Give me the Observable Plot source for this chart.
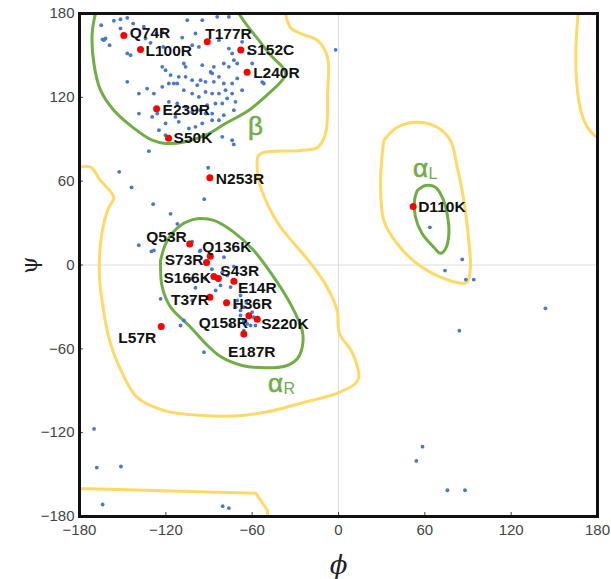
<!DOCTYPE html>
<html>
<head>
<meta charset="utf-8">
<script src="https://cdn.jsdelivr.net/npm/d3@7"></script>
<script src="https://cdn.jsdelivr.net/npm/@observablehq/plot@0.6"></script>
<style>
  body { margin: 0; background: #fff; }
  #chart svg { display: block; }
</style>
</head>
<body>
<div id="chart"></div>
<script>
// Ramachandran plot: backbone dihedral angles (phi, psi) in degrees.

const phiTicks = [-180, -120, -60, 0, 60, 120, 180];
const psiTicks = [-180, -120, -60, 0, 60, 120, 180];

// Mutated residues (highlighted in red)
const mutantNames = ["Q74R", "L100R", "T177R", "S152C", "L240R", "E239R", "S50K", "N253R",
  "D110K", "Q53R", "Q136K", "S73R", "S166K", "S43R", "E14R", "T37R", "H36R",
  "Q158R", "S220K", "E187R", "L57R"];
const mutantPhi = [-149.2, -137.6, -91.2, -67.9, -63.5, -126.4, -118.1, -89.4,
  51.9, -103.4, -89.1, -91.7, -86.6, -83.5, -72.7, -89.4, -77.8,
  -62.3, -56.5, -65.8, -123.2];
const mutantPsi = [164.3, 154.3, 159.7, 153.8, 138.0, 111.8, 90.7, 62.4,
  41.9, 15.1, 6.2, 1.8, -8.2, -9.7, -11.6, -23.1, -27.1,
  -36.4, -38.9, -49.3, -44.0];

// All other residues [phi, psi]
const otherResidues = [
  // beta sheet region
  [-164.9, 171.6], [-156.1, 174.8], [-151.5, 175.9], [-151.5, 169.3], [-146.8, 176.9],
  [-142.7, 172.8], [-135.3, 170.5], [-161.9, 162.1], [-159.1, 157.3], [-163.1, 160.9],
  [-146.8, 151.4], [-144.5, 150.2], [-134.1, 162.1], [-130.6, 159.0], [-126.5, 165.7],
  [-122.5, 166.9], [-121.8, 156.1], [-108.6, 162.8], [-105.1, 175.2], [-101.7, 157.3],
  [-94.7, 175.2], [-84.3, 177.6], [-76.2, 177.6], [-99.4, 165.7], [-97.0, 156.1],
  [-83.1, 160.9], [-76.2, 154.9], [-73.9, 151.4], [-72.7, 146.6], [-67.0, 159.7],
  [-62.3, 151.4], [-60.0, 144.2], [-51.9, 129.9], [-79.7, 144.2], [-76.2, 141.8],
  [-70.4, 144.2], [-86.6, 141.8], [-88.9, 138.2], [-94.7, 143.0], [-107.5, 144.2],
  [-106.3, 141.8], [-122.5, 141.8], [-120.2, 139.4], [-116.7, 135.9], [-114.4, 129.9],
  [-111.0, 134.7], [-106.3, 134.7], [-101.7, 132.3], [-98.2, 128.7], [-95.9, 132.3],
  [-92.4, 131.1], [-87.8, 137.1], [-86.6, 131.1], [-83.1, 134.7], [-79.7, 129.9],
  [-73.9, 129.9], [-70.4, 133.5], [-67.0, 125.1], [-73.9, 122.7], [-78.5, 125.1],
  [-83.1, 122.7], [-87.8, 122.7], [-92.4, 123.9], [-97.0, 120.3], [-101.7, 122.7],
  [-107.5, 125.1], [-112.1, 129.9], [-117.9, 129.9], [-122.5, 127.5], [-128.3, 122.7],
  [-133.0, 126.3], [-138.7, 122.7], [-146.8, 131.1], [-117.9, 116.8], [-112.1, 115.6],
  [-106.3, 113.2], [-101.7, 109.6], [-95.9, 110.8], [-91.3, 114.4], [-85.5, 115.6],
  [-80.8, 115.6], [-77.4, 119.2], [-71.6, 116.8], [-72.7, 110.8], [-92.4, 108.4],
  [-87.8, 108.4], [-138.7, 108.4], [-129.5, 106.0], [-126.0, 108.4], [-120.2, 101.3],
  [-113.3, 106.0], [-111.0, 102.5], [-104.0, 97.7], [-99.4, 98.9], [-94.7, 101.3],
  [-87.8, 103.6], [-83.1, 103.6], [-79.7, 107.2], [-124.8, 96.5], [-120.2, 92.9],
  [-80.8, 91.7], [-73.9, 89.3], [-131.8, 81.5], [-72.8, 86.3], [-53.0, 130.9],
  [-2.0, 154.0], [-164.0, 161.5],
  // bridge region
  [-90.6, 69.6], [-152.4, 66.7], [-143.8, 55.5], [-128.8, 43.5], [-116.7, 36.6],
  [-93.3, 47.1], [-112.0, 29.5], [-138.8, 14.2], [-130.0, 9.7],
  // right-handed helix region
  [-128.3, 10.4], [-95.9, 10.4], [-79.6, 5.6], [-102.8, -9.9], [-92.4, -9.9],
  [-80.8, -5.1], [-77.3, -7.5], [-82.0, -14.6], [-75.0, -15.8], [-85.4, -18.2],
  [-123.6, -24.2], [-101.6, -25.4], [-68.1, -21.8], [-71.5, -30.2], [-68.1, -32.5],
  [-60.0, -33.7], [-68.1, -36.1], [-107.4, -39.7], [-109.8, -43.3], [-75.0, -43.3],
  [-61.1, -43.3], [-93.5, -62.4], [-72.7, -1.1], [-65.8, -30.2], [-58.9, -37.4],
  [-63.4, -42.1], [-57.7, -43.3], [-65.8, -46.9], [-70.4, -25.4], [-99.4, -16.3],
  [-96.4, 9.9], [-101.7, 16.8], [-88.0, -3.0], [-64.0, -27.0], [-66.0, -40.0],
  // left-handed helix and right half
  [63.5, 27.0], [86.0, 4.0], [74.0, -4.0], [88.5, -10.4], [94.0, -10.4],
  [143.8, -31.0], [84.0, -47.0],
  // lower half
  [-169.9, -117.3], [-168.0, -145.0], [-151.2, -144.2], [-163.9, -171.4],
  [-80.5, -172.6], [-76.2, -174.0], [58.4, -130.0], [54.1, -140.2],
  [75.7, -161.2], [87.9, -161.2]
];

// Allowed-region boundaries (yellow)
const allowedMain = [
  [-180, 70.0], [-172.3, 70.0], [-165.4, 60.5], [-157.3, 51.0], [-156.2, 47.4],
  [-159.6, 41.4], [-162.6, 31.9], [-165.4, 15.4], [-166.1, -8.9], [-163.3, -32.6],
  [-159.8, -51.2], [-153.6, -69.8], [-140.1, -94.6], [-121.1, -104.2], [-94.1, -107.7],
  [-67.0, -107.7], [-45.3, -104.2], [-23.6, -98.2], [-2.1, -92.2], [11.5, -85.0],
  [14.2, -80.3], [12.9, -71.9], [8.8, -61.2], [0.7, -49.2], [-0.9, -32.6],
  [-7.9, -15.9], [-17.2, -1.6], [-28.7, 12.7], [-40.3, 27.1], [-49.5, 43.8],
  [-55.4, 60.5], [-56.5, 74.8], [-55.6, 78.4], [-52.1, 80.5], [-26.4, 82.0],
  [-14.6, 84.1], [-9.0, 94.1], [-7.6, 122.8], [-7.6, 148.5], [-14.6, 160.7],
  [-26.4, 165.7], [-33.4, 170.0], [-36.8, 180]
];
const allowedBottom = [
  [-180, -160.2], [-172.6, -160.2], [-57.5, -163.3], [-49.3, -175.7], [-49.3, -180]
];
const allowedTopRight = [
  [166.5, 180], [165.0, 155.0], [165.6, 130.0], [168.5, 110.0], [174.0, 97.0], [180, 91.0]
];
const allowedLeftHelix = [
  [31.5, 89.1], [40.8, 98.6], [54.7, 102.2], [68.6, 98.6], [77.8, 89.1], [82.5, 70.0],
  [87.1, 46.2], [90.5, 17.5], [91.7, -1.6], [89.4, -12.3], [84.8, -13.0], [70.9, -8.7],
  [54.7, 0.9], [40.8, 15.2], [31.5, 31.9], [29.2, 58.1], [30.4, 79.6], [31.5, 89.1]
];

// Favoured-region boundaries (green)
const favouredBeta = [
  [-168.9, 180], [-171.2, 165.7], [-170.0, 144.2], [-165.4, 125.1], [-156.2, 110.8],
  [-143.4, 98.9], [-129.5, 89.3], [-120.2, 87.0], [-106.3, 88.2], [-92.4, 92.9],
  [-78.5, 101.3], [-62.3, 110.8], [-48.4, 122.8], [-39.1, 132.3], [-36.8, 137.1],
  [-39.1, 141.9], [-46.1, 149.0], [-55.4, 160.9], [-64.6, 172.9], [-69.3, 180]
];
const favouredHelixR = [
  [-123.7, 3.2], [-119.0, 17.5], [-109.8, 28.3], [-98.2, 33.1], [-86.7, 31.9],
  [-72.8, 23.5], [-58.9, 10.4], [-45.0, -8.7], [-33.4, -27.8], [-25.2, -46.9],
  [-25.0, -57.6], [-28.5, -66.9], [-36.8, -72.3], [-50.7, -73.6], [-67.0, -71.9],
  [-82.0, -65.5], [-92.4, -56.2], [-102.8, -44.5], [-116.7, -30.2], [-122.5, -15.9],
  [-123.7, 3.2]
];
const favouredHelixL = [
  [54.7, 53.3], [60.5, 56.9], [67.4, 55.7], [72.1, 48.5], [75.5, 36.6], [76.7, 22.3],
  [74.4, 11.6], [70.9, 8.4], [66.2, 12.7], [58.2, 22.3], [53.5, 34.2], [52.8, 46.2],
  [54.7, 53.3]
];

// Region names
const regionNames = ["β", "α", "α"];
const regionSubs = ["", "L", "R"];
const regionPhi = [-57.7, 57.0, -43.8];
const regionPsi = [98.8, 69.0, -84.9];

// Label placement around each highlighted residue: [textAnchor, dx, dy]
const labelPlacement = {
  Q74R: ["start", 6, -2], L100R: ["start", 5, 2], T177R: ["start", -2, -8],
  S152C: ["start", 6, 0], L240R: ["start", 6, 1], E239R: ["start", 6, 1],
  S50K: ["start", 5, 0], N253R: ["start", 6, 1], D110K: ["start", 5, 1],
  Q53R: ["end", -3, -7], Q136K: ["start", -8, -9], S73R: ["end", -3, -2],
  S166K: ["end", -3, 2], S43R: ["start", 2, -8], E14R: ["start", 4, 7],
  T37R: ["end", -1, 3], H36R: ["start", 6, 1], Q158R: ["end", -1, 7],
  S220K: ["start", 4, 5], E187R: ["middle", 8, 18], L57R: ["end", -5, 12]
};

const mutants = mutantNames.map((name, i) => ({name, phi: mutantPhi[i], psi: mutantPsi[i]}));
const regions = regionNames.map((t, i) => ({t, sub: regionSubs[i], phi: regionPhi[i], psi: regionPsi[i]}));

const YELLOW = "#FFD966";
const GREEN = "#70AD47";
const contour = (data, stroke, curve = "catmull-rom") =>
  Plot.line(data, {x: d => d[0], y: d => d[1], stroke, strokeWidth: 3, curve, clip: true});

const labelFont = "'Liberation Sans', Arial, sans-serif";

const chart = Plot.plot({
  width: 611,
  height: 579,
  marginLeft: 79,
  marginRight: 14,
  marginTop: 13,
  marginBottom: 63,
  style: {fontFamily: labelFont, fontSize: "15px", color: "#444", background: "white", overflow: "visible"},
  x: {domain: [-180, 180]},
  y: {domain: [-180, 180]},
  marks: [
    Plot.ruleX([0], {stroke: "#dcdcdc", strokeWidth: 1}),
    Plot.ruleY([0], {stroke: "#dcdcdc", strokeWidth: 1}),
    contour(allowedMain, YELLOW),
    contour(allowedBottom, YELLOW, "linear"),
    contour(allowedTopRight, YELLOW),
    contour(allowedLeftHelix, YELLOW, "catmull-rom-closed"),
    contour(favouredBeta, GREEN),
    contour(favouredHelixR, GREEN, "catmull-rom-closed"),
    contour(favouredHelixL, GREEN, "catmull-rom-closed"),
    Plot.dot(otherResidues, {x: d => d[0], y: d => d[1], r: 1.9, fill: "#4a78c6", stroke: null}),
    Plot.dot(mutants, {x: "phi", y: "psi", r: 3.5, fill: "#ff0000", stroke: null}),
    ...mutants.map(m => {
      const [textAnchor, dx, dy] = labelPlacement[m.name];
      return Plot.text([m], {x: "phi", y: "psi", text: "name", textAnchor, dx, dy,
        fontSize: 15.5, fontWeight: "bold", fill: "#111", fontFamily: labelFont});
    }),
    Plot.text(regions, {x: "phi", y: "psi", text: "t", fontSize: 26, fill: GREEN, textAnchor: "middle",
      stroke: GREEN, strokeWidth: 0.6}),
    Plot.text(regions.filter(r => r.sub), {x: "phi", y: "psi", text: "sub", fontSize: 16, fill: GREEN,
      textAnchor: "start", dx: 8, dy: 5}),
    Plot.axisX({ticks: phiTicks, tickSize: -4, tickPadding: 12, label: null}),
    Plot.axisY({ticks: psiTicks, tickSize: -4, tickPadding: 9, label: null}),
    Plot.text(["ϕ"], {x: 0, y: -180, dy: 49, text: d => d, fontSize: 26, fontStyle: "italic",
      fontFamily: "'DejaVu Serif', serif", fill: "#222"}),
    Plot.text(["ψ"], {x: -180, y: 0, dx: -50, text: d => d, fontSize: 22, rotate: -90,
      fontFamily: "'DejaVu Serif', serif", fill: "#222"}),
    Plot.frame({stroke: "#111", strokeWidth: 3})
  ]
});

document.getElementById("chart").append(chart);
</script>
</body>
</html>
